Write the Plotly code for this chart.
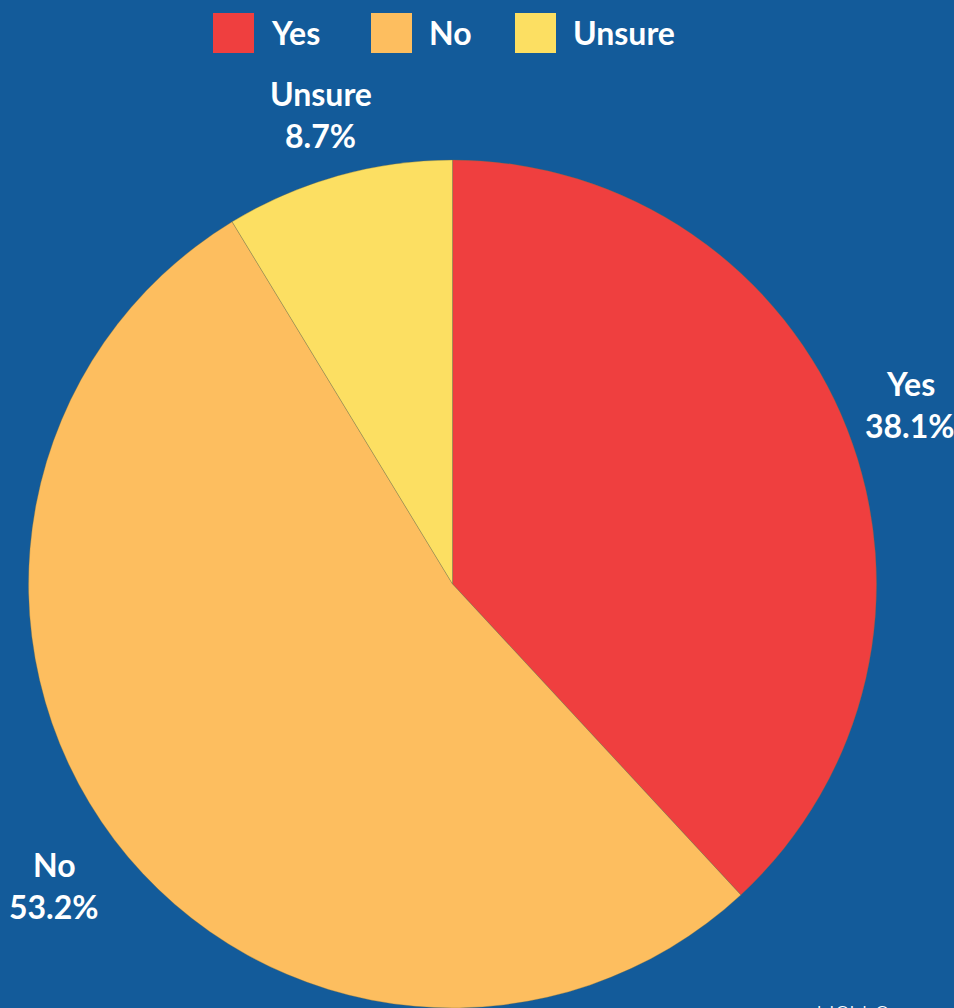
import math
import plotly.graph_objects as go

# Survey responses
categories = ["Yes", "No", "Unsure"]
shares = [38.1, 53.2, 8.7]
colors = ["#EF3F3F", "#FDBE5F", "#FCDF62"]

BG = "#135B9A"
FONT = "Lato"
W, H = 954, 1008

# Pie geometry (paper domain) -> centre and radius in pixels
dom_x = [0.0299, 0.9188]
dom_y = [0.0, 0.8413]
radius = min((dom_x[1] - dom_x[0]) * W, (dom_y[1] - dom_y[0]) * H) / 2
cx = (dom_x[0] + dom_x[1]) / 2 * W
cy = H - (dom_y[0] + dom_y[1]) / 2 * H

fig = go.Figure(
    go.Pie(
        labels=categories,
        values=shares,
        sort=False,
        direction="clockwise",
        rotation=0,
        marker=dict(colors=colors, line=dict(color="rgba(120,110,60,0.55)", width=0.6)),
        textinfo="none",
        hoverinfo="label+percent",
        showlegend=False,
        domain=dict(x=dom_x, y=dom_y),
    )
)

FS = 32
label_font = dict(family=FONT, size=FS, color="white", weight="bold")
annotations = []

# Outside labels: anchored just past the rim on each slice's mid-angle,
# with the two-line text box pushed fully outward along that direction.
total = sum(shares)
cum = 0.0
gap = 22
box_h = 80
for cat, val in zip(categories, shares):
    mid = (cum + val / 2) / total * 2 * math.pi
    cum += val
    pct = f"{val:.1f}%"
    box_w = 17 * max(len(cat), len(pct))
    s, c = math.sin(mid), math.cos(mid)
    reach = min(box_w / 2 / max(abs(s), 1e-6), box_h / 2 / max(abs(c), 1e-6))
    r = radius + gap + reach
    lx = cx + r * s
    ly = cy - r * c
    for text, dy in ((cat, -21), (pct, 21)):
        annotations.append(dict(
            text=text, xref="paper", yref="paper",
            x=lx / W, y=1 - (ly + dy) / H,
            xanchor="center", yanchor="middle", showarrow=False,
            font=label_font,
        ))

# Custom legend with large colour squares along the top
legend_x = [213, 371, 515]
box = 40
shapes = []
for cat, col, x0 in zip(categories, colors, legend_x):
    shapes.append(dict(
        type="rect", xref="paper", yref="paper",
        x0=x0 / W, x1=(x0 + box + 1) / W,
        y0=1 - 53 / H, y1=1 - 13 / H,
        fillcolor=col, line=dict(width=0), layer="above",
    ))
    annotations.append(dict(
        text=cat, xref="paper", yref="paper",
        x=(x0 + box + 16) / W, y=1 - 33 / H,
        xanchor="left", yanchor="middle", showarrow=False,
        font=label_font,
    ))

# Source credit at the bottom edge
annotations.append(dict(
    text="USU Survey", xref="paper", yref="paper",
    x=814 / W, y=1 - 996 / H, xanchor="left", yanchor="top",
    showarrow=False,
    font=dict(family=FONT, size=26, color="white", weight=300),
))

fig.update_layout(
    width=W, height=H,
    margin=dict(l=0, r=0, t=0, b=0),
    paper_bgcolor=BG, plot_bgcolor=BG,
    shapes=shapes, annotations=annotations,
)

fig.write_html("out.html")
